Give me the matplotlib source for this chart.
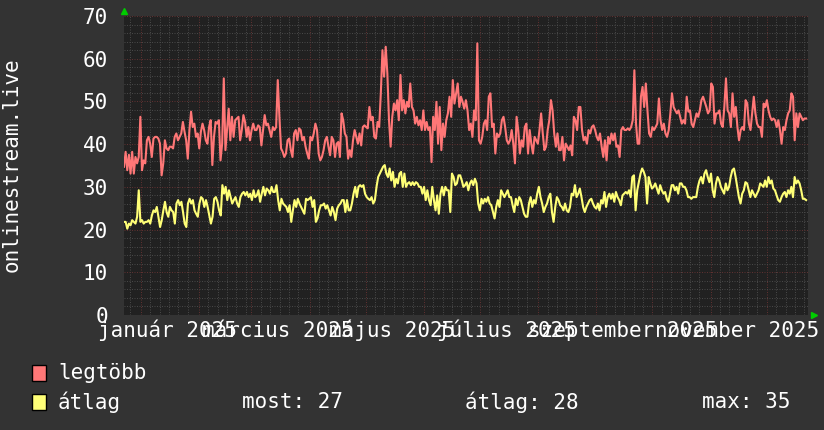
import datetime as dt
import numpy as np
import matplotlib
matplotlib.use('Agg')
import matplotlib.pyplot as plt
import matplotlib.dates as mdates
import matplotlib.transforms as mtrans
from matplotlib.patches import Rectangle

plt.rcParams['font.family'] = ['DejaVu Sans Mono', 'DejaVu Sans']

# daily values (23 Dec 2024 .. 22 Dec 2025)
legtobb = [
    34.7, 38.2, 33.9, 37.5, 33.1, 38.2, 33.1, 37.0, 35.5, 37.0, 46.4, 33.9, 36.2, 35.5, 40.9, 41.7, 40.1, 37.0,
    41.3, 41.7, 41.7, 41.3, 40.1, 32.7, 35.5, 40.9, 39.0, 38.6, 39.4, 39.4, 39.0, 41.7, 42.5, 40.9, 41.7, 42.5,
    45.2, 42.9, 40.9, 36.6, 43.3, 47.6, 44.0, 44.8, 41.7, 42.5, 39.0, 42.9, 44.8, 43.3, 40.9, 40.1, 44.0, 45.6,
    35.1, 41.7, 45.2, 44.8, 45.6, 36.2, 40.1, 55.4, 38.6, 43.3, 48.3, 40.9, 46.4, 41.7, 45.6,
    46.0, 46.4, 40.9, 43.3, 46.8, 45.2, 41.7, 44.0, 40.9, 43.3, 44.8, 43.3, 43.3, 44.4, 44.0, 39.7, 43.3, 46.8,
    44.4, 44.8, 43.3, 41.7, 44.0, 43.3, 44.0, 55.0, 46.4, 39.0, 38.2, 37.0, 37.8, 40.9, 41.3, 38.6, 37.0, 42.5,
    43.3, 40.9, 43.7, 43.3, 40.9, 41.7, 39.4, 37.8, 36.6, 41.7, 40.9, 42.5, 44.8, 43.3, 37.8, 36.2, 37.0, 38.6,
    40.9, 41.7, 39.4, 37.4, 41.7, 40.9, 37.0, 40.1, 40.5, 37.0, 47.2, 45.6, 42.5, 41.7, 36.6, 38.6,
    37.0, 40.9, 43.3, 41.7, 40.1, 42.5, 39.7, 44.0, 44.4, 44.0, 43.7, 48.7, 45.6, 46.4, 41.7, 41.3, 45.2, 44.0,
    51.9, 62.0, 55.8, 62.8, 56.5, 45.6, 39.4, 46.4, 49.5, 47.9, 50.3, 45.6, 56.2, 47.9, 50.3, 47.2, 49.9, 48.7,
    54.2, 48.7, 47.9, 44.8, 46.4, 44.4, 45.6, 43.3, 47.9, 43.3, 45.2, 43.3, 44.0, 35.8, 46.4, 43.3, 49.9, 40.1,
    48.7, 38.6, 44.8, 41.7, 45.6, 47.2, 51.1, 46.4, 55.0, 49.5, 51.9, 54.2, 48.7, 51.1, 49.9, 48.3,
    50.3, 47.9, 43.3, 44.8, 41.7, 47.9, 45.6, 63.6, 40.9, 40.1, 41.7, 44.8, 45.6, 43.3, 51.1, 51.9, 44.0, 44.8,
    37.8, 42.5, 41.7, 42.5, 45.6, 46.4, 44.0, 40.9, 40.1, 40.9, 43.3, 40.1, 35.5, 46.4, 43.3, 37.8, 40.9, 39.4,
    44.0, 44.8, 37.8, 43.3, 40.1, 37.8, 41.7, 40.9, 40.1, 43.3, 47.2, 42.5, 38.6, 39.4, 43.3, 45.6, 50.3, 47.9,
    42.5, 39.4, 42.5, 38.6, 38.6, 41.7, 36.2, 40.1, 39.4, 38.6, 39.7, 37.4, 46.4, 45.6, 43.3, 48.7,
    48.7, 43.3, 40.9, 41.7, 40.1, 43.3, 42.5, 44.0, 44.4, 43.3, 41.7, 40.9, 42.5, 39.4, 37.0, 40.9, 36.2, 41.7,
    40.1, 42.5, 40.9, 42.5, 39.4, 39.7, 37.0, 43.3, 44.0, 43.3, 43.3, 43.7, 43.3, 44.0, 45.6, 57.3, 44.8, 40.1,
    40.1, 51.1, 53.4, 48.7, 54.2, 47.9, 42.5, 41.7, 44.0, 43.3, 44.0, 44.8, 50.7, 45.6, 43.3, 44.8, 42.5, 41.7,
    43.3, 47.2, 51.9, 48.7, 47.9, 47.2, 47.9, 46.4, 44.8, 45.6, 44.8, 51.1, 47.6, 47.9, 44.8, 44.0,
    45.6, 47.2, 46.4, 47.9, 50.3, 51.1, 49.9, 48.7, 47.2, 47.9, 54.2, 53.4, 44.8, 47.2, 47.2, 47.9, 44.8, 44.0,
    48.7, 55.4, 47.9, 47.2, 44.0, 51.9, 46.4, 48.7, 44.0, 40.9, 43.3, 44.0, 43.3, 50.3, 49.5, 44.8, 43.3, 47.2,
    51.1, 47.2, 44.8, 44.0, 44.0, 41.7, 49.5, 48.7, 50.3, 47.9, 46.4, 45.6, 46.0, 45.6, 44.0, 45.6, 43.3, 40.1,
    44.0, 43.3, 45.6, 47.2, 47.9, 51.9, 51.1, 40.9, 47.2, 44.0, 47.2, 46.4, 45.6, 46.0, 46.0,
]

atlag = [
    21.8, 21.8, 20.2, 21.4, 21.0, 22.2, 21.8, 21.4, 23.0, 29.2, 21.8, 22.2, 21.4, 21.8, 21.8, 22.2, 21.4, 23.3,
    24.5, 24.1, 25.3, 23.0, 20.6, 22.2, 24.5, 26.5, 24.1, 23.0, 25.3, 24.5, 24.1, 21.4, 26.1, 26.9, 25.7, 26.5,
    24.1, 21.4, 20.6, 26.1, 27.2, 26.1, 26.9, 24.5, 23.7, 23.0, 26.1, 27.6, 27.2, 25.3, 26.9, 25.3, 23.3, 21.4,
    23.0, 27.2, 27.6, 26.5, 24.5, 23.3, 30.4, 28.4, 30.0, 26.9, 29.2, 27.6, 26.1, 26.9,
    27.6, 26.1, 25.3, 27.6, 28.4, 28.8, 28.0, 28.8, 27.6, 28.4, 26.9, 29.2, 27.6, 28.0, 29.2, 26.5, 28.4, 30.0,
    28.0, 29.6, 29.2, 28.4, 30.0, 28.8, 28.8, 30.4, 26.9, 24.5, 27.2, 26.1, 25.7, 25.3, 24.1, 25.7, 21.8, 24.5,
    26.9, 25.3, 27.2, 26.1, 25.3, 24.5, 23.7, 27.2, 26.9, 27.2, 27.6, 25.3, 26.9, 21.8, 22.6, 24.5, 25.7, 25.7,
    26.1, 24.9, 25.7, 24.5, 23.3, 25.3, 24.1, 22.2, 24.9, 25.7, 26.1, 26.9, 26.9, 24.1, 26.9, 24.5,
    24.5, 26.1, 28.4, 30.0, 27.6, 30.0, 30.4, 30.0, 30.4, 28.4, 27.6, 27.2, 26.9, 27.6, 26.1, 26.9, 30.0, 32.3,
    33.1, 33.9, 34.7, 35.1, 33.1, 32.3, 34.3, 31.5, 33.5, 30.0, 31.9, 30.8, 33.1, 33.5, 30.0, 33.1, 30.0, 30.8,
    31.1, 30.4, 31.1, 30.4, 31.1, 30.8, 30.0, 30.0, 28.4, 30.0, 26.9, 29.2, 26.9, 25.7, 30.0, 26.9, 24.5, 28.0,
    23.7, 28.4, 30.0, 28.0, 30.0, 29.2, 29.2, 24.1, 33.1, 32.3, 30.4, 30.8, 32.7, 32.7, 31.5, 30.0,
    30.4, 31.1, 29.2, 30.8, 31.5, 30.4, 31.9, 30.8, 26.1, 24.5, 27.2, 26.1, 27.2, 26.5, 27.6, 26.1, 25.7, 24.1,
    22.6, 25.3, 26.9, 25.3, 29.2, 28.4, 27.6, 28.4, 29.2, 27.6, 27.6, 25.7, 24.1, 27.2, 25.7, 27.6, 26.9, 25.3,
    23.7, 23.0, 23.0, 26.1, 27.6, 25.3, 26.9, 26.1, 28.4, 30.0, 27.6, 26.1, 24.1, 25.3, 26.1, 27.6, 28.4, 24.1,
    21.8, 25.3, 27.6, 26.9, 25.7, 25.3, 24.5, 26.1, 24.5, 24.1, 25.3, 28.4, 28.0, 30.4, 27.6, 28.4,
    29.6, 27.6, 25.3, 24.1, 25.3, 26.1, 26.9, 27.2, 26.1, 25.3, 24.9, 26.1, 24.5, 26.9, 26.1, 28.8, 25.3, 27.6,
    28.4, 27.2, 28.4, 26.5, 28.8, 27.6, 26.9, 25.7, 28.0, 28.4, 28.8, 28.4, 29.2, 27.6, 32.3, 32.7, 24.5, 29.2,
    31.1, 33.1, 34.3, 33.5, 32.3, 26.1, 32.3, 30.8, 29.6, 30.0, 30.8, 29.6, 28.4, 30.4, 29.2, 28.4, 28.8, 27.2,
    26.5, 28.4, 30.4, 30.4, 29.2, 30.0, 28.4, 30.8, 30.8, 30.0, 30.0, 29.2, 27.6, 27.6, 27.2, 27.6,
    27.6, 27.6, 30.0, 31.5, 32.3, 30.8, 33.1, 33.9, 32.3, 31.1, 33.1, 29.2, 27.6, 30.8, 32.3, 31.5, 30.0, 29.2,
    28.4, 30.8, 29.2, 30.0, 32.3, 33.9, 34.3, 32.3, 30.0, 27.6, 26.1, 28.4, 29.2, 31.1, 30.8, 29.2, 27.6, 29.2,
    28.4, 27.6, 28.4, 29.2, 30.8, 30.4, 30.0, 31.5, 30.0, 32.3, 30.8, 31.5, 29.6, 29.2, 28.0, 26.9, 26.5, 27.6,
    28.4, 28.8, 27.6, 29.2, 28.4, 30.0, 27.6, 32.3, 30.8, 31.5, 30.8, 29.2, 27.2, 27.2, 26.9,
]

month_labels = ['január 2025', 'március 2025', 'május 2025', 'július 2025',
                'szeptember 2025', 'november 2025']
label_months = [1, 3, 5, 7, 9, 11]
stats = ['most: 27', 'átlag: 28', 'max: 35']

BG = '#333333'
CANVAS = '#212121'
RED = '#ff7777'
YELLOW = '#ffff77'
GRID_MINOR = '#474747'
GRID_MAJOR = '#5e3030'

W, H = 824, 430
fig = plt.figure(figsize=(W / 100, H / 100), dpi=100, facecolor=BG)
ax = fig.add_axes([124 / W, 115 / H, 684 / W, 299 / H])
ax.set_facecolor(CANVAS)

t0 = dt.datetime(2024, 12, 23)
t1 = dt.datetime(2025, 12, 23)
d_end = dt.datetime(2025, 12, 22)
n0 = mdates.date2num(t0)
n_end = mdates.date2num(d_end)

x_red = np.linspace(n0, n_end, len(legtobb))
x_yel = np.linspace(n0, n_end, len(atlag))

ax.plot(x_red, legtobb, color=RED, lw=1.5, zorder=3)
ax.plot(x_yel, atlag, color=YELLOW, lw=1.5, zorder=3)

ax.set_xlim(n0, mdates.date2num(t1))
ax.set_ylim(0, 70)

# grid: month starts / every 5 days, every 10 / every 2
ax.xaxis.set_major_locator(mdates.MonthLocator())
ax.xaxis.set_minor_locator(mdates.DayLocator(bymonthday=[6, 11, 16, 21, 26]))
ax.set_yticks(np.arange(0, 71, 10))
ax.set_yticks(np.arange(0, 71, 2), minor=True)
ax.grid(which='minor', color=GRID_MINOR, ls=(0, (1, 1.5)), lw=0.72, zorder=1)
ax.grid(which='major', color=GRID_MAJOR, ls=(0, (1, 1.5)), lw=0.72, zorder=2)
ax.set_axisbelow(True)

ax.tick_params(which='both', length=0)
ax.tick_params(axis='x', labelbottom=False)
ax.tick_params(axis='y', colors='white', labelsize=15, pad=11.5)
for s in ax.spines.values():
    s.set_visible(False)

# month labels
trans = mtrans.blended_transform_factory(ax.transData, ax.transAxes)
for m, lab in zip(label_months, month_labels):
    ax.text(mdates.date2num(dt.datetime(2025, m, 15)), -0.052, lab, transform=trans,
            ha='center', va='center', color='white', fontsize=15)

# green arrows at axis ends
ax.plot([0], [1.017], marker='^', color='#00cc00', ms=4.5, transform=ax.transAxes, clip_on=False)
ax.plot([1.009], [0], marker='>', color='#00cc00', ms=4.5, transform=ax.transAxes, clip_on=False)

fig.text(12 / W, 1 - 165 / H, 'onlinestream.live', rotation=90, ha='center', va='center',
         color='white', fontsize=15)

# legend
for row, (name, col) in enumerate([('legtöbb', RED), ('átlag', YELLOW)]):
    yc = 373 + row * 29
    fig.patches.append(Rectangle((32 / W, 1 - (yc + 8) / H), 14 / W, 16 / H,
                                 facecolor=col, edgecolor='black', lw=1,
                                 transform=fig.transFigure, figure=fig))
    fig.text(58 / W, 1 - yc / H, name, ha='left', va='center', color='white', fontsize=15)

for xs, s in zip([242, 465, 702], stats):
    fig.text(xs / W, 1 - 402 / H, s, ha='left', va='center', color='white', fontsize=15)

fig.savefig('out.png', dpi=100, facecolor=BG)
